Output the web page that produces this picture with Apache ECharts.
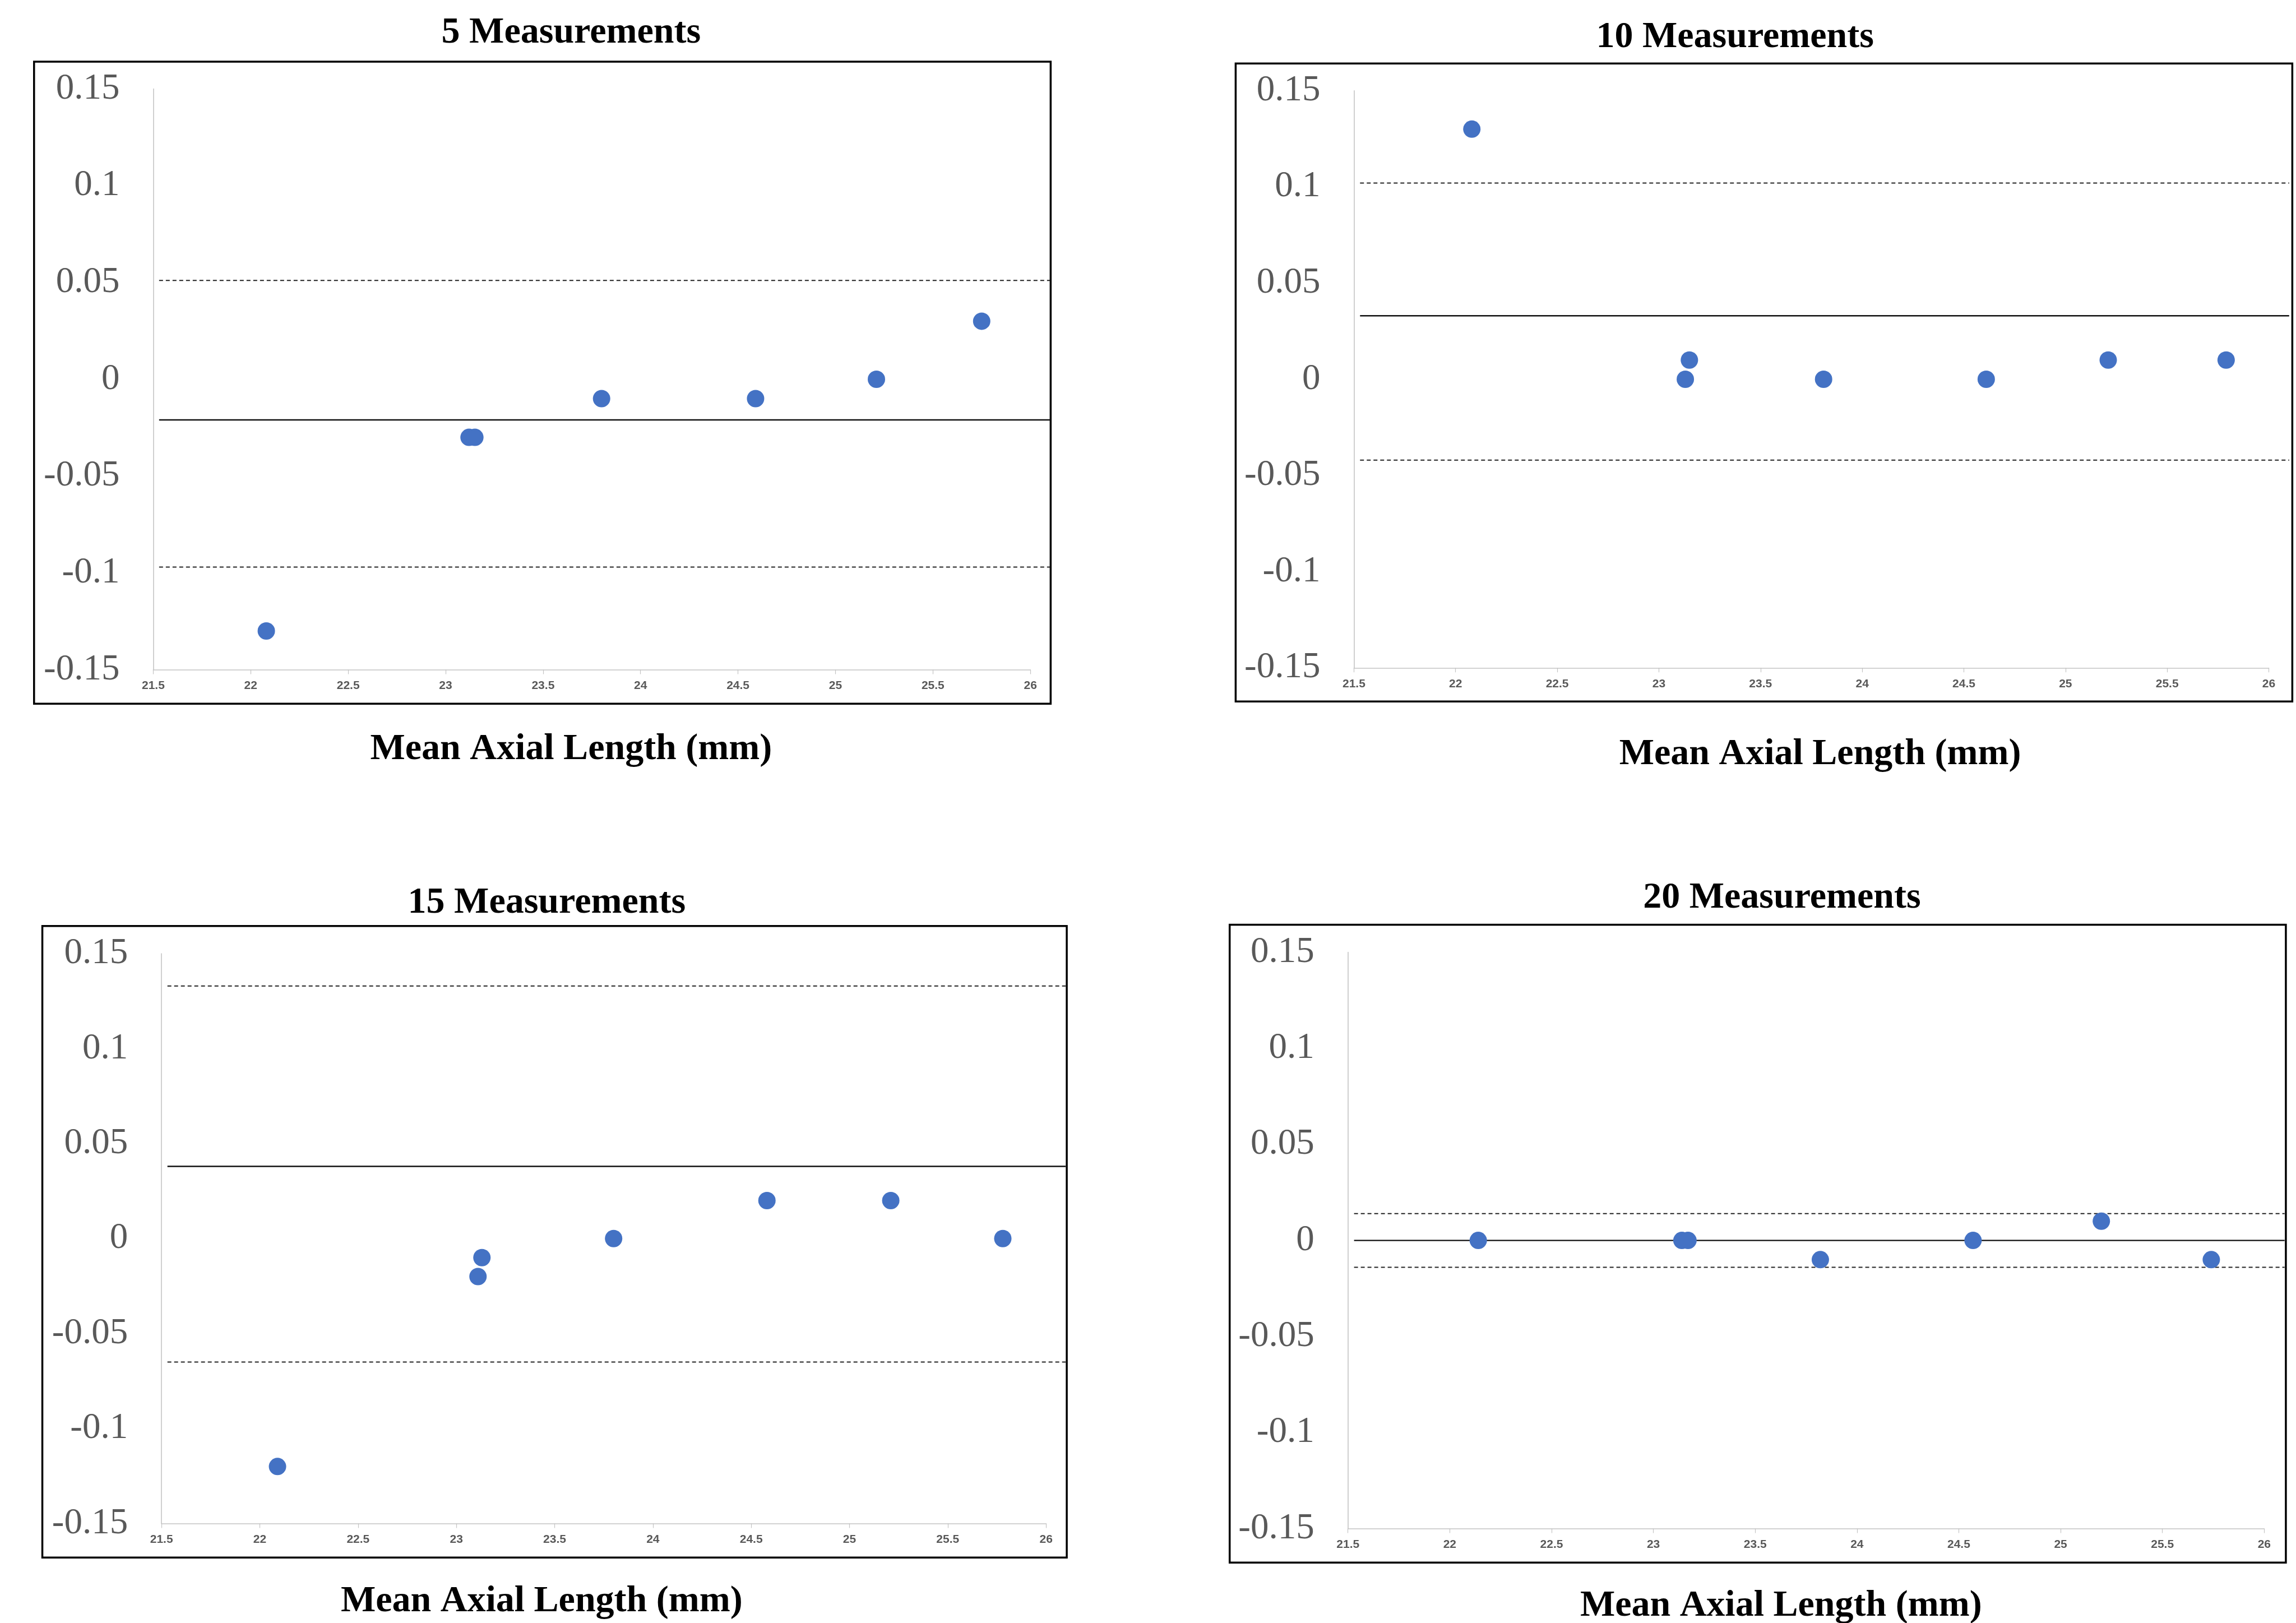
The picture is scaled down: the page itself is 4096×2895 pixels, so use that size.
<!DOCTYPE html>
<html>
<head>
<meta charset="utf-8">
<title>Mean Axial Length - difference plots</title>
<script src="https://cdn.jsdelivr.net/npm/echarts@6/dist/echarts.min.js"></script>
<style>
  html, body { margin: 0; padding: 0; background: #fff; }
  #chart { width: 4096px; height: 2895px; }
</style>
</head>
<body>
<div id="chart"></div>
<script>
// values
const panelTitles = ['5 Measurements', '10 Measurements', '15 Measurements', '20 Measurements'];
const xAxisTitle = 'Mean Axial Length (mm)';

const axial5 = [22.08, 23.12, 23.15, 23.80, 24.59, 25.21, 25.75];
const diff5 = [-0.13, -0.03, -0.03, -0.01, -0.01, 0, 0.03];

const axial10 = [22.08, 23.13, 23.15, 23.81, 24.61, 25.21, 25.79];
const diff10 = [0.13, 0, 0.01, 0, 0, 0.01, 0.01];

const axial15 = [22.09, 23.11, 23.13, 23.80, 24.58, 25.21, 25.78];
const diff15 = [-0.12, -0.02, -0.01, 0, 0.02, 0.02, 0];

const axial20 = [22.14, 23.14, 23.17, 23.82, 24.57, 25.20, 25.74];
const diff20 = [0, 0, 0, -0.01, 0, 0.01, -0.01];

// mean difference (solid) and limits of agreement (dashed), one per panel
const bias = [-0.021, 0.033, 0.038, 0];
const upperLoA = [0.051, 0.102, 0.133, 0.014];
const lowerLoA = [-0.097, -0.042, -0.065, -0.014];
// the horizontal lines run a bit past the last tick, up to the frame
const refLineX = [21.53, 26.1];

const xMin = 21.5, xMax = 26, xStep = 0.5;
const yMin = -0.15, yMax = 0.15, yStep = 0.05;

const axialSets = [axial5, axial10, axial15, axial20];
const diffSets = [diff5, diff10, diff15, diff20];

// layout measured in reference pixels, scaled to the window
const S = 0.821;
const layout = [
  { box: [74, 134, 2283, 1529], plot: [333, 193, 2239, 1455], title: [1241, 72], xlabel: [1241, 1628] },
  { box: [2685, 138, 4981, 1524], plot: [2942, 197, 4930, 1451], title: [3770, 81], xlabel: [3955, 1640] },
  { box: [92, 2012, 2318, 3384], plot: [351, 2072, 2273, 3310], title: [1188, 1962], xlabel: [1177, 3480] },
  { box: [2672, 2009, 4967, 3395], plot: [2929, 2069, 4920, 3321], title: [3872, 1951], xlabel: [3870, 3490] }
];

const dotColor = '#4472C4';
const axisGray = '#c4c4c4';
const labelGray = '#595959';

const chart = echarts.init(document.getElementById('chart'));

const grids = [], xAxes = [], yAxes = [], series = [], graphics = [];
const n = layout.length;

layout.forEach((p, i) => {
  const [pl, pt, pr, pb] = p.plot.map(v => v * S);
  const w = pr - pl, h = pb - pt;
  grids[i] = { left: pl, top: pt, width: w, height: h, outerBoundsMode: 'none' };
  // hidden twin grid, same scale but wider, so the reference lines can reach the frame
  grids[n + i] = {
    left: pl, top: pt, height: h, outerBoundsMode: 'none',
    width: w * (refLineX[1] - xMin) / (xMax - xMin)
  };

  xAxes[i] = {
    type: 'value', gridIndex: i,
    min: xMin, max: xMax, interval: xStep,
    axisLine: { show: true, onZero: false, lineStyle: { color: axisGray, width: 1.6 } },
    axisTick: { show: true, length: 8, lineStyle: { color: axisGray, width: 1.2 } },
    axisLabel: {
      margin: 18,
      fontSize: 21,
      fontWeight: 'bold',
      fontFamily: 'Liberation Sans',
      color: labelGray,
      formatter: v => String(Number(v.toFixed(1)))
    },
    splitLine: { show: false }
  };
  xAxes[n + i] = { type: 'value', gridIndex: n + i, min: xMin, max: refLineX[1], show: false };

  yAxes[i] = {
    type: 'value', gridIndex: i,
    min: yMin, max: yMax, interval: yStep,
    axisLine: { show: true, onZero: false, lineStyle: { color: axisGray, width: 1.6 } },
    axisTick: { show: false },
    axisLabel: {
      margin: 60,
      fontSize: 65,
      fontFamily: 'Liberation Serif',
      color: labelGray,
      formatter: v => String(Number(v.toFixed(2)))
    },
    splitLine: { show: false }
  };
  yAxes[n + i] = { type: 'value', gridIndex: n + i, min: yMin, max: yMax, show: false };

  const refLine = (value, dashed) => ({
    type: 'line',
    xAxisIndex: n + i, yAxisIndex: n + i,
    data: [[refLineX[0], value], [refLineX[1], value]],
    showSymbol: false,
    symbol: 'none',
    clip: false,
    silent: true,
    z: 2,
    lineStyle: dashed
      ? { color: '#222', width: 2, type: [7, 5] }
      : { color: '#111', width: 2.4, type: 'solid' }
  });

  series.push(refLine(upperLoA[i], true));
  series.push(refLine(bias[i], false));
  series.push(refLine(lowerLoA[i], true));

  series.push({
    type: 'scatter',
    xAxisIndex: i, yAxisIndex: i,
    data: axialSets[i].map((x, k) => [x, diffSets[i][k]]),
    symbolSize: 31,
    z: 3,
    itemStyle: { color: dotColor, opacity: 1 }
  });

  // frame round each panel
  const [bl, bt, br, bb] = p.box.map(v => v * S);
  graphics.push({
    type: 'rect',
    shape: { x: bl, y: bt, width: br - bl, height: bb - bt },
    style: { fill: 'none', stroke: '#000', lineWidth: 3.5 },
    silent: true
  });

  graphics.push({
    type: 'text',
    x: p.title[0] * S, y: p.title[1] * S,
    style: {
      text: panelTitles[i],
      font: 'bold 66px "Liberation Serif"',
      fill: '#000',
      align: 'center', verticalAlign: 'middle',
      textAlign: 'center', textVerticalAlign: 'middle'
    },
    silent: true
  });

  graphics.push({
    type: 'text',
    x: p.xlabel[0] * S, y: p.xlabel[1] * S,
    style: {
      text: xAxisTitle,
      font: 'bold 66px "Liberation Serif"',
      fill: '#000',
      align: 'center', verticalAlign: 'middle',
      textAlign: 'center', textVerticalAlign: 'middle'
    },
    silent: true
  });
});

chart.setOption({
  animation: false,
  backgroundColor: '#fff',
  grid: grids,
  xAxis: xAxes,
  yAxis: yAxes,
  series: series,
  graphic: graphics
});
</script>
</body>
</html>
